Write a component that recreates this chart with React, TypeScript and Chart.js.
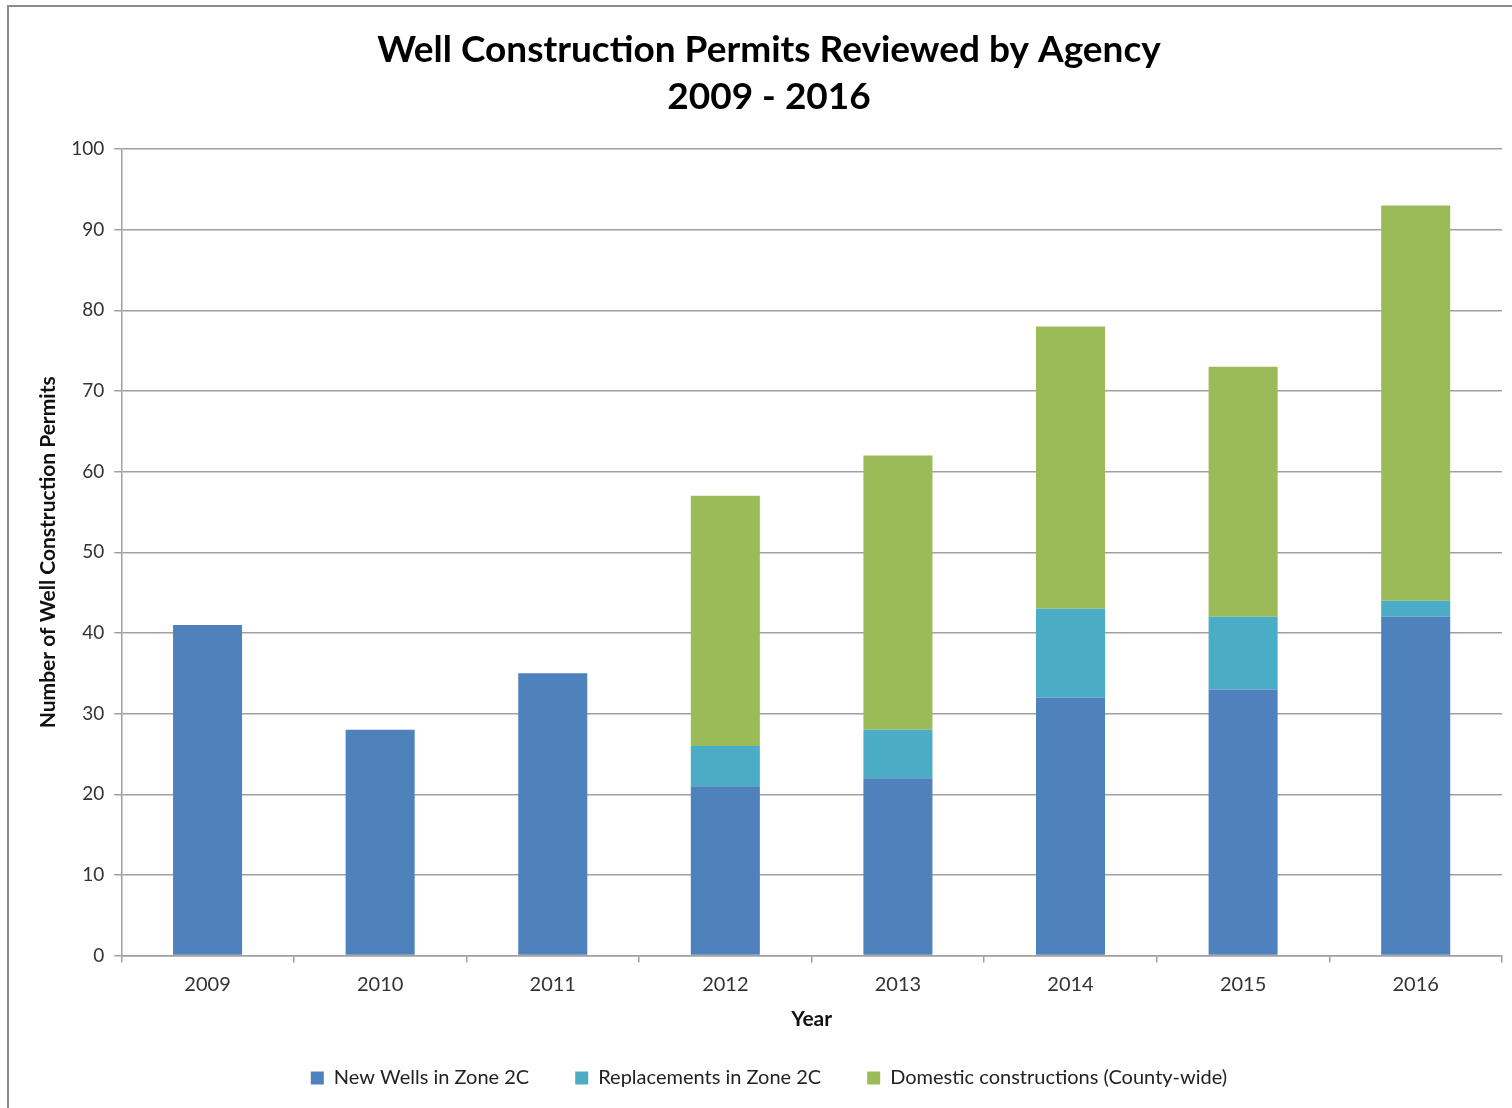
import React, { useEffect, useRef } from "react";
import { Chart, registerables } from "chart.js";

Chart.register(...registerables);

const years = ["2009", "2010", "2011", "2012", "2013", "2014", "2015", "2016"];
const newWells = [41, 28, 35, 21, 22, 32, 33, 42];
const replacements = [0, 0, 0, 5, 6, 11, 9, 2];
const domestic = [0, 0, 0, 31, 34, 35, 31, 49];
const titleLines = ["Well Construction Permits Reviewed by Agency", "2009 - 2016"];
const yTitle = "Number of Well Construction Permits";
const xTitle = "Year";

const FONT = "Lato, 'Open Sans', sans-serif";

export default function App() {
  const ref = useRef<HTMLCanvasElement | null>(null);

  useEffect(() => {
    if (!ref.current) return;
    const chart = new Chart(ref.current, {
      type: "bar",
      data: {
        labels: years,
        datasets: [
          { label: "New Wells in Zone 2C", data: newWells, backgroundColor: "#4F81BD" },
          { label: "Replacements in Zone 2C", data: replacements, backgroundColor: "#4BACC6" },
          { label: "Domestic constructions (County-wide)", data: domestic, backgroundColor: "#9BBB59" },
        ],
      },
      options: {
        animation: false,
        responsive: false,
        maintainAspectRatio: false,
        datasets: { bar: { categoryPercentage: 1, barPercentage: 0.4 } },
        layout: { padding: { left: 36, right: 10, top: 0, bottom: 10 } },
        plugins: {
          tooltip: { enabled: false },
          title: {
            display: true,
            text: titleLines,
            color: "#000",
            font: { family: FONT, size: 37, weight: "bold", lineHeight: 1.27 },
            padding: { top: 26.5, bottom: 28.5 },
          },
          legend: {
            position: "bottom",
            labels: {
              color: "#222",
              font: { family: FONT, size: 20 },
              boxWidth: 13,
              boxHeight: 13,
              padding: 46,
            },
          },
        },
        scales: {
          x: {
            stacked: true,
            offset: true,
            afterFit: (scale: any) => {
              scale.height = 66.4;
            },
            grid: {
              offset: true,
              drawOnChartArea: false,
              drawTicks: true,
              tickLength: 7,
              color: "#a0a0a0",
              lineWidth: 1.5,
            },
            border: { display: true, color: "#a0a0a0", width: 1.5 },
            ticks: { color: "#333", font: { family: FONT, size: 20 }, padding: 10 },
            title: {
              display: true,
              text: xTitle,
              color: "#111",
              font: { family: FONT, size: 21, weight: "bold" },
              padding: { top: 0, bottom: -10.2 },
            },
          },
          y: {
            stacked: true,
            min: 0,
            max: 100,
            ticks: { stepSize: 10, color: "#333", font: { family: FONT, size: 19 }, padding: 10 },
            grid: { color: "#a0a0a0", lineWidth: 1.5, tickLength: 7 },
            border: { display: true, color: "#a0a0a0", width: 1.5 },
            title: {
              display: true,
              text: yTitle,
              color: "#111",
              font: { family: FONT, size: 21, weight: "bold" },
              padding: { top: 0, bottom: 0 },
            },
          },
        },
      },
    });
    return () => chart.destroy();
  }, []);

  return (
    <div style={{ position: "absolute", left: 0, top: 0, width: 1512, height: 1108, overflow: "hidden", background: "#fff" }}>
      <div
        style={{
          position: "absolute",
          left: 7,
          top: 5,
          width: 1600,
          height: 1200,
          border: "2px solid #8c8c8c",
        }}
      />
      <canvas ref={ref} width={1512} height={1108} style={{ position: "absolute", left: 0, top: 0 }} />
    </div>
  );
}
